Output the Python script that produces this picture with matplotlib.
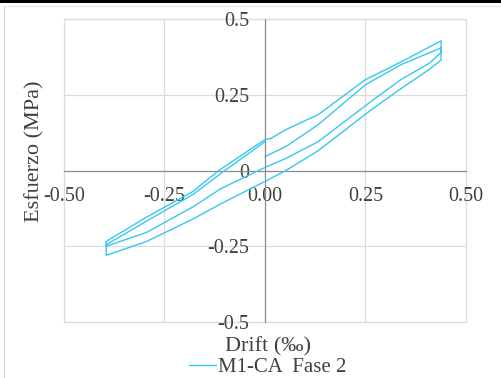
import matplotlib
matplotlib.use("Agg")
import matplotlib.pyplot as plt
from matplotlib.patches import Rectangle
from matplotlib.lines import Line2D

# ---- data (drift in per-mille, stress in MPa) ----
drift = [0.000, 0.052, 0.132, 0.250, 0.338, 0.438,
         0.438, 0.410, 0.338, 0.264, 0.132, 0.052, 0.000, -0.110, -0.179, -0.296, -0.395,
         -0.395, -0.296, -0.179, -0.115, 0.000, 0.015, 0.052, 0.132, 0.250, 0.338, 0.438,
         0.438, 0.410, 0.338, 0.264, 0.132, 0.052, 0.000, -0.110, -0.179, -0.296, -0.395,
         -0.395, -0.296, -0.179, -0.100, 0.000]
stress = [0.046, 0.079, 0.151, 0.283, 0.349, 0.405,
          0.365, 0.335, 0.270, 0.200, 0.065, 0.000, -0.036, -0.110, -0.160, -0.235, -0.280,
          -0.234, -0.155, -0.069, 0.000, 0.102, 0.106, 0.135, 0.184, 0.300, 0.358, 0.428,
          0.390, 0.355, 0.300, 0.228, 0.095, 0.040, 0.010, -0.060, -0.120, -0.205, -0.250,
          -0.245, -0.168, -0.079, 0.000, 0.095]
series_name = "M1-CA  Fase 2"
x_ticks = [-0.5, -0.25, 0.0, 0.25, 0.5]
x_tick_labels = ["-0.50", "-0.25", "0.00", "0.25", "0.50"]
y_ticks = [-0.5, -0.25, 0.0, 0.25, 0.5]
y_tick_labels = ["-0.5", "-0.25", "0", "0.25", "0.5"]
x_label = "Drift (‰)"
y_label = "Esfuerzo (MPa)"

plt.rcParams['font.family'] = ['Liberation Serif', 'DejaVu Serif']

W, H = 502, 378
fig = plt.figure(figsize=(W / 100, H / 100), dpi=100)
ax = fig.add_axes([64 / W, 1 - 322 / H, (466 - 64) / W, (322 - 19) / H])

line_color = '#36c8f0'
ax.plot(drift, stress, color=line_color, lw=1.0, label=series_name, zorder=3)

ax.set_xlim(-0.5, 0.5)
ax.set_ylim(-0.5, 0.5)

grid_c = '#dcdcdc'
for v in [-0.25, 0.25]:
    ax.axvline(v, color=grid_c, lw=0.9, zorder=0)
    ax.axhline(v, color=grid_c, lw=0.9, zorder=0)
ax.add_patch(Rectangle((0, 0), 1, 1, transform=ax.transAxes, fill=False,
                       ec=grid_c, lw=1.0, clip_on=False, zorder=0))

for s in ['top', 'right']:
    ax.spines[s].set_visible(False)
ax.spines['left'].set_position('zero')
ax.spines['bottom'].set_position('zero')
ax.spines['left'].set_color('#8c8c8c')
ax.spines['bottom'].set_color('#8c8c8c')
ax.spines['left'].set_linewidth(0.9)
ax.spines['bottom'].set_linewidth(0.9)

ax.set_xticks(x_ticks)
ax.set_xticklabels(x_tick_labels)
ax.set_yticks(y_ticks)
ax.set_yticklabels(y_tick_labels)
ax.tick_params(axis='both', length=0, labelsize=14.4, colors='#404040')
ax.tick_params(axis='x', pad=12)
ax.tick_params(axis='y', pad=11.5)

fig.text(268 / W, 1 - 347 / H, x_label, ha='center', va='center',
         fontsize=16, color='#404040')
fig.text(35 / W, 1 - 151 / H, y_label, ha='center', va='center',
         rotation=90, fontsize=16, color='#404040')

fig.legend(handles=[Line2D([], [], color=line_color, lw=1.0)], labels=[series_name],
           loc='center', bbox_to_anchor=(268 / W, 1 - 367 / H), frameon=False,
           fontsize=15, handlelength=1.3, handletextpad=0.1, labelcolor='#404040',
           borderpad=0, borderaxespad=0)

# page decoration: black top rule and light frame
fig.add_artist(Rectangle((0, 1 - 3 / H), 1, 3 / H, transform=fig.transFigure,
                         color='black', lw=0))
fig.add_artist(Line2D([4 / W, 4 / W], [0, 1 - 6 / H], transform=fig.transFigure,
                      color='#d0d0d0', lw=0.8))
fig.add_artist(Line2D([4 / W, 1], [1 - 6 / H, 1 - 6 / H], transform=fig.transFigure,
                      color='#e6e6e6', lw=0.8))

fig.savefig('out.png', dpi=100)
